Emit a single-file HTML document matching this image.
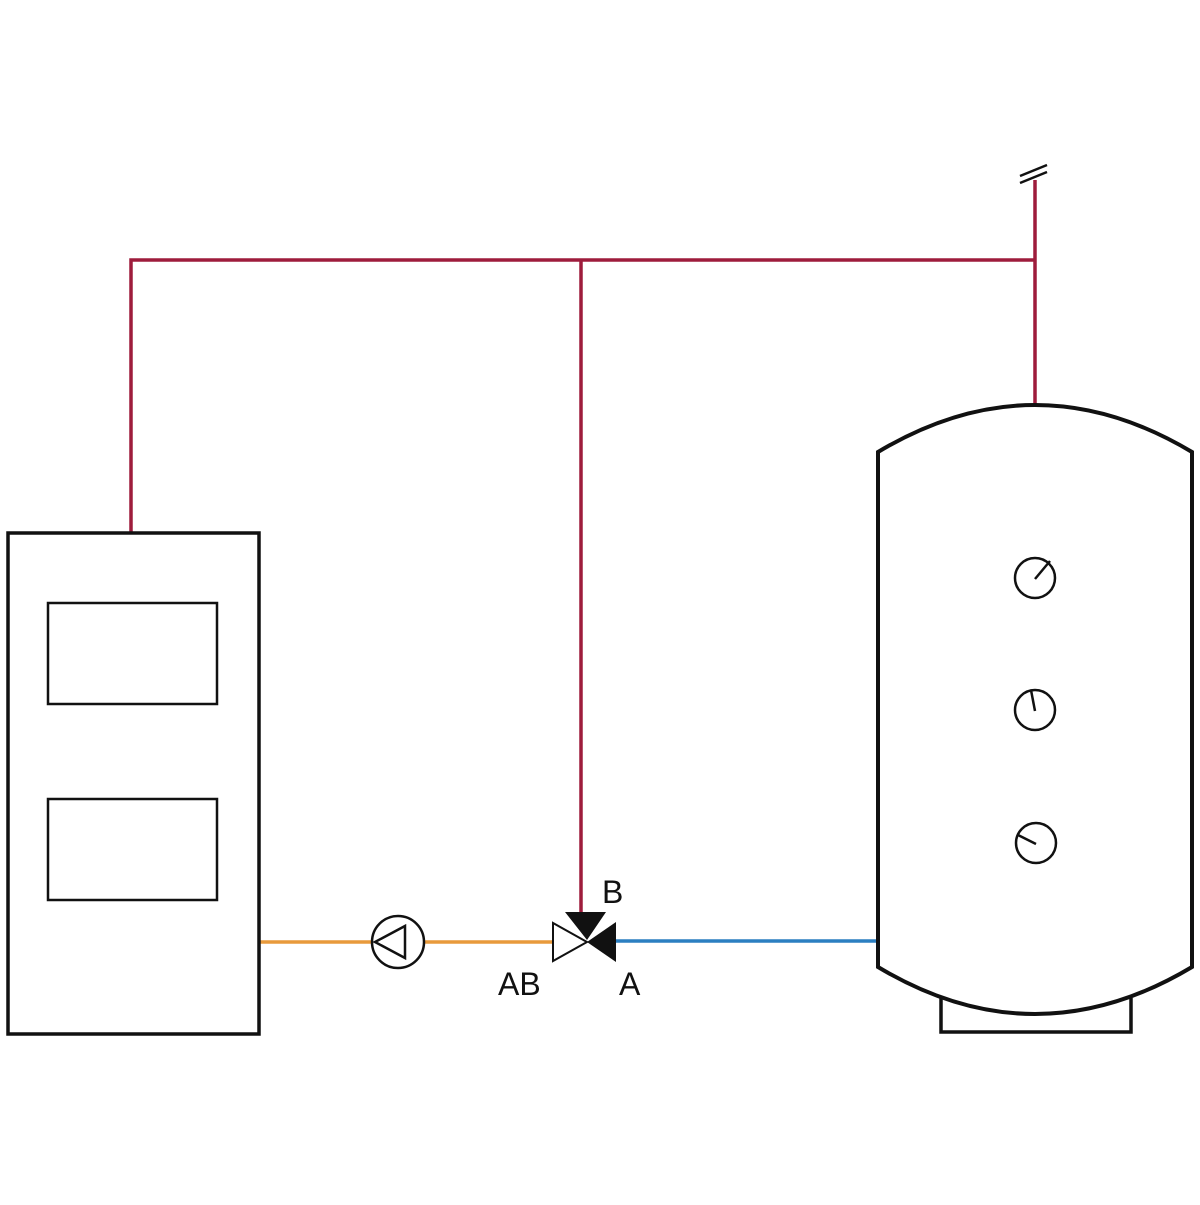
<!DOCTYPE html>
<html><head><style>body{margin:0;background:#fff}</style></head><body>
<svg width="1200" height="1200" viewBox="0 0 1200 1200" xmlns="http://www.w3.org/2000/svg">
<rect width="1200" height="1200" fill="#fff"/>
<g stroke="#9e1c3c" stroke-width="3.5" fill="none">
<polyline points="131,533 131,260 1035,260"/>
<line x1="581" y1="260" x2="581" y2="912"/>
<line x1="1035" y1="180" x2="1035" y2="405"/>
</g>
<g stroke="#111" stroke-width="2.5">
<line x1="1020" y1="176" x2="1047" y2="165"/>
<line x1="1020" y1="183" x2="1047" y2="172"/>
</g>
<line x1="259" y1="942" x2="553" y2="942" stroke="#e89a3c" stroke-width="3.5"/>
<line x1="616" y1="941" x2="878" y2="941" stroke="#2b7fc1" stroke-width="3.5"/>
<g stroke="#111" stroke-width="3" fill="none">
<rect x="8" y="533" width="251" height="501" stroke-width="3.5"/>
<rect x="48" y="603" width="169" height="101" stroke-width="2.5"/>
<rect x="48" y="799" width="169" height="101" stroke-width="2.5"/>
<path d="M878,452 Q1035,358 1192,452 L1192,967 Q1035,1061 878,967 Z" stroke-width="4"/>
<path d="M941,998 L941,1032 L1131,1032 L1131,998" stroke-width="3.5"/>
<circle cx="398" cy="942" r="26" fill="#fff" stroke-width="2.5"/>
<polygon points="375,942 405,926 405,958" stroke-width="2.5"/>
<circle cx="1035" cy="578" r="20" stroke-width="2.5"/>
<line x1="1035" y1="579" x2="1050" y2="561" stroke-width="2.5"/>
<circle cx="1035" cy="710" r="20" stroke-width="2.5"/>
<line x1="1035" y1="711" x2="1031" y2="690" stroke-width="2.5"/>
<circle cx="1036" cy="843" r="20" stroke-width="2.5"/>
<line x1="1036" y1="844" x2="1018" y2="835" stroke-width="2.5"/>
</g>
<polygon points="553,923 553,961 587,942" fill="#fff" stroke="#111" stroke-width="2"/>
<polygon points="565,912 606,912 587,940" fill="#111"/>
<polygon points="616,922 616,962 587,942" fill="#111"/>
<g font-family="Liberation Sans, sans-serif" font-size="32" fill="#111">
<text x="602" y="903">B</text>
<text x="498" y="995">AB</text>
<text x="619" y="995">A</text>
</g>
</svg>
</body></html>
